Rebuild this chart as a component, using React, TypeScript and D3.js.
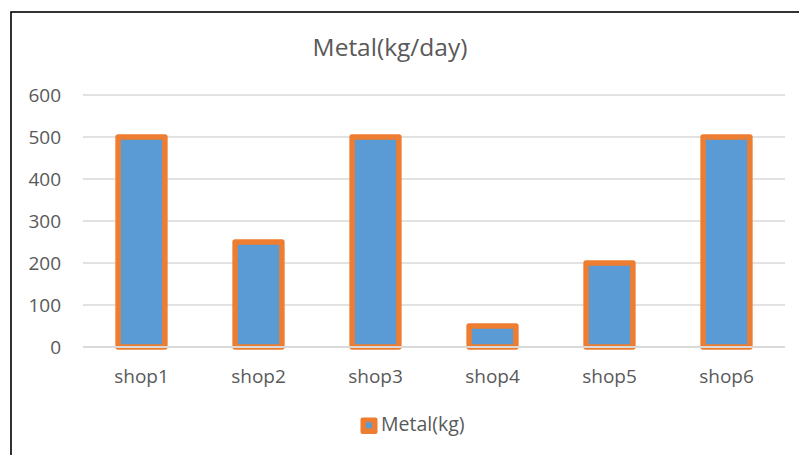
import React from "react";
import * as d3 from "d3";

const categories = ["shop1", "shop2", "shop3", "shop4", "shop5", "shop6"];
const metalValues = [500, 250, 500, 50, 200, 500];
const yTicks = [0, 100, 200, 300, 400, 500, 600];
const seriesName = "Metal(kg)";
const title = "Metal(kg/day)";

const W = 799;
const H = 455;
const FONT = "'Open Sans', sans-serif";
const TEXT = "#595959";
const BLUE = "#5b9bd5";
const ORANGE = "#ed7d31";

export default function App() {
  const x = d3.scaleBand<string>().domain(categories).range([83, 785]).paddingInner(0.6).paddingOuter(0.3);
  const y = d3.scaleLinear().domain([0, 600]).range([347, 95]);

  return (
    <svg
      width={W}
      height={H}
      style={{ position: "absolute", left: 0, top: 0, background: "#fff" }}
      fontFamily={FONT}
    >
      <rect x={0} y={0} width={W} height={H} fill="#fff" />
      <rect x={11} y={12} width={820} height={500} fill="none" stroke="#000" strokeWidth={1.6} />
      <text x={390} y={56} textAnchor="middle" fontSize={24.5} fill={TEXT}>
        {title}
      </text>
      {yTicks.filter((t) => t !== 0).map((t) => (
        <line key={t} x1={83} x2={785} y1={y(t)} y2={y(t)} stroke="#d9d9d9" strokeWidth={1.5} />
      ))}
      {yTicks.map((t) => (
        <text key={"l" + t} x={61} y={y(t) + 7} textAnchor="end" fontSize={19} fill={TEXT}>
          {t}
        </text>
      ))}
      {categories.map((c, i) => (
        <rect
          key={c}
          x={x(c)!}
          y={y(metalValues[i])}
          width={x.bandwidth()}
          height={y(0) - y(metalValues[i])}
          fill={BLUE}
          stroke={ORANGE}
          strokeWidth={5.5}
          strokeLinejoin="round"
        />
      ))}
      <line x1={83} x2={785} y1={y(0)} y2={y(0)} stroke="#d9d9d9" strokeWidth={1.8} />
      {categories.map((c) => (
        <text key={"x" + c} x={x(c)! + x.bandwidth() / 2} y={383} textAnchor="middle" fontSize={19} fill={TEXT}>
          {c}
        </text>
      ))}
      <rect x={360.5} y={417.5} width={17} height={16.5} rx={2} fill={ORANGE} />
      <rect x={366} y={422.3} width={6} height={6} fill={BLUE} />
      <text x={381} y={431} fontSize={19.5} fill={TEXT}>
        {seriesName}
      </text>
    </svg>
  );
}
